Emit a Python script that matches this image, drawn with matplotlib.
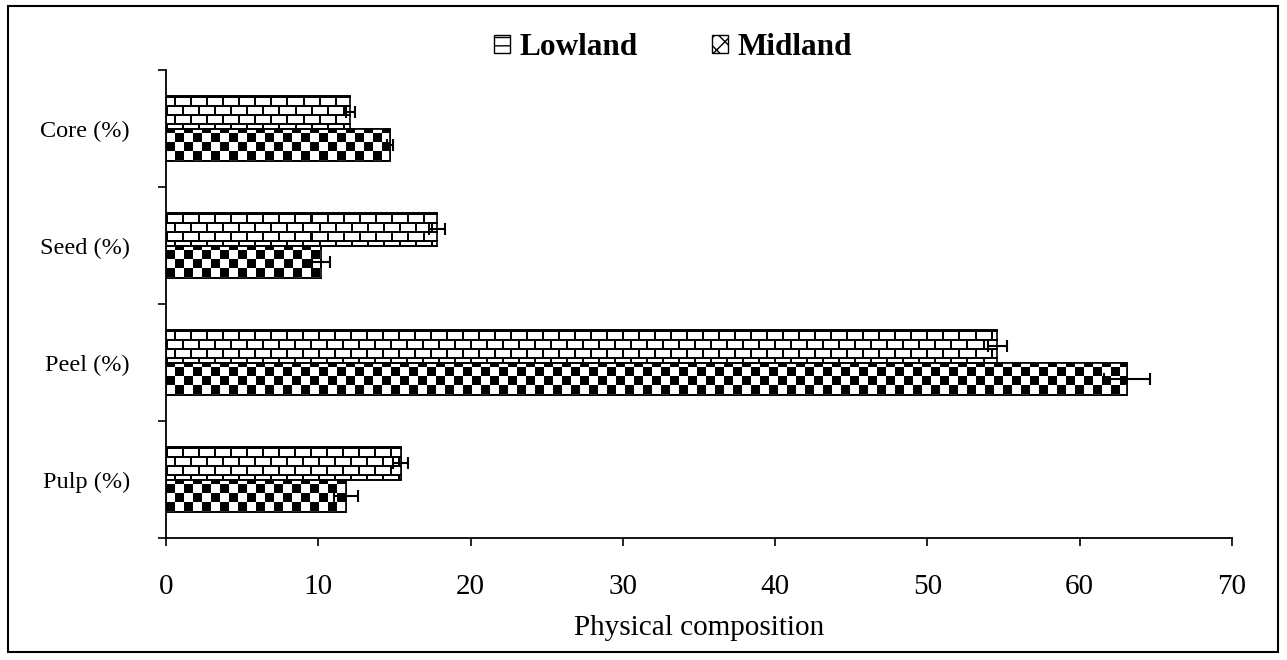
import numpy as np
import matplotlib
matplotlib.use("Agg")
import matplotlib.pyplot as plt
from matplotlib.patches import Rectangle, Patch

categories = ["Pulp (%)", "Peel (%)", "Seed (%)", "Core (%)"]
lowland = [15.4, 54.6, 17.8, 12.1]
lowland_err = [0.5, 0.6, 0.5, 0.3]
midland = [11.8, 63.1, 10.2, 14.7]
midland_err = [0.8, 1.5, 0.6, 0.2]
xticks = [0, 10, 20, 30, 40, 50, 60, 70]

plt.rcParams['font.family'] = ['Liberation Serif', 'DejaVu Serif']

W, H = 1287, 660
fig = plt.figure(figsize=(W / 100, H / 100), dpi=100)
ax_l, ax_r, ax_t, ax_b = 166, 1232, 70, 538
ax = fig.add_axes([ax_l / W, 1 - ax_b / H, (ax_r - ax_l) / W, (ax_b - ax_t) / H])

# textures (pixel-sized)
pw, ph = ax_r - ax_l, ax_b - ax_t
yy, xx = np.mgrid[0:ph, 0:pw]
row = yy // 9
brick = np.ones((ph, pw))
brick[(yy % 9) < 2] = 0
brick[((xx + (row % 2) * 8) % 16) < 2] = 0
checker = ((xx // 9 + yy // 9) % 2).astype(float)

y = np.arange(len(categories))
h = 0.28
bl = ax.barh(y + h / 2, lowland, height=h, color='white', edgecolor='black', linewidth=1.2, zorder=2)
bm = ax.barh(y - h / 2, midland, height=h, color='white', edgecolor='black', linewidth=1.2, zorder=2)

ax.set_xlim(0, 70)
ax.set_ylim(-0.5, 3.5)
ext = (0, 70, -0.5, 3.5)
for bars, tex in ((bl, brick), (bm, checker)):
    for b in bars:
        im = ax.imshow(tex, extent=ext, aspect='auto', cmap='gray', vmin=0, vmax=1,
                       interpolation='nearest', origin='upper', zorder=2.5)
        im.set_clip_path(b)
    for b in bars:
        r = Rectangle(b.get_xy(), b.get_width(), b.get_height(), fill=False,
                      edgecolor='black', linewidth=1.2, zorder=3)
        ax.add_patch(r)

ax.errorbar(lowland, y + h / 2, xerr=lowland_err, fmt='none', ecolor='black',
            elinewidth=1.5, capsize=4, capthick=1.5, zorder=4)
ax.errorbar(midland, y - h / 2, xerr=midland_err, fmt='none', ecolor='black',
            elinewidth=1.5, capsize=4, capthick=1.5, zorder=4)
ax.set_xlim(0, 70)
ax.set_ylim(-0.5, 3.5)

ax.set_yticks(y)
ax.set_yticklabels(categories, fontsize=17.5)
ax.set_yticks(np.arange(-0.5, 4.0, 1.0), minor=True)
ax.tick_params(axis='y', which='major', length=0, pad=26)
ax.tick_params(axis='y', which='minor', length=6, width=1.2, direction='out')
ax.set_xticks(xticks)
ax.set_xticklabels([str(v) for v in xticks], fontsize=21)
ax.tick_params(axis='x', length=6, width=1.2, direction='out', pad=20)
ax.set_xlabel("Physical composition", fontsize=21, labelpad=11)

for s in ('top', 'right'):
    ax.spines[s].set_visible(False)
for s in ('left', 'bottom'):
    ax.spines[s].set_linewidth(1.3)

handles = [Patch(facecolor='white', edgecolor='black', hatch='--', label='Lowland'),
           Patch(facecolor='white', edgecolor='black', hatch='xx', label='Midland')]
fig.legend(handles=handles, loc='center', bbox_to_anchor=(0.523, 0.928), ncol=2,
           frameon=False, prop={'weight': 'bold', 'size': 22.5}, handlelength=0.5,
           handleheight=0.5, handletextpad=0.3, columnspacing=2.4)

fig.patches.append(Rectangle((8 / W, 1 - 652 / H), 1270 / W, 646 / H, transform=fig.transFigure,
                             fill=False, edgecolor='black', linewidth=1.5))

fig.savefig("out.png", dpi=100)
